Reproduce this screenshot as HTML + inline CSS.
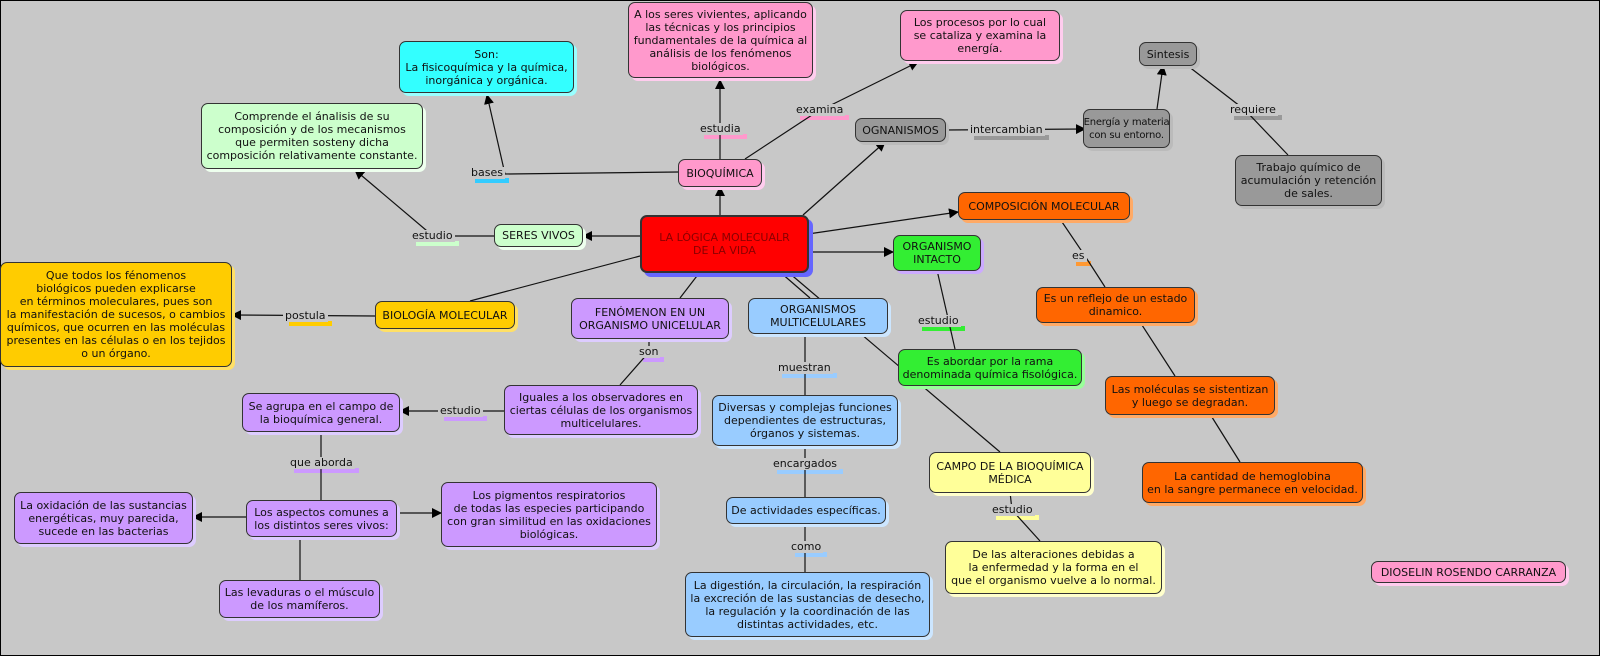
<!DOCTYPE html>
<html><head><meta charset="utf-8"><style>
body{margin:0;width:1600px;height:656px;background:#c8c8c8;position:relative;overflow:hidden;font-family:"DejaVu Sans","Liberation Sans",sans-serif;font-size:11px;color:#111;}
.frame{position:absolute;left:0;top:0;width:1598px;height:654px;border:1px solid #000;}
.n{position:absolute;box-sizing:border-box;border:1px solid #333;border-radius:7px;display:flex;align-items:center;justify-content:center;text-align:center;line-height:13px;white-space:nowrap;}
.l{position:absolute;line-height:12px;padding:0 2px;background:#c8c8c8;white-space:nowrap;}
.l span{position:absolute;left:6px;right:-4px;bottom:-4px;height:5px;z-index:-1;}
svg{position:absolute;left:0;top:0;}
</style></head><body>
<div class="frame"></div>
<svg width="1600" height="656">
<defs><marker id="a" markerWidth="10" markerHeight="10" refX="9" refY="5" orient="auto" markerUnits="userSpaceOnUse"><path d="M0,0 L10,5 L0,10z" fill="#000"/></marker></defs>
<g stroke="#111" stroke-width="1.2" fill="none">
<line x1="720" y1="159" x2="720" y2="80" marker-end="url(#a)"/>
<polyline points="745,159 815,113 918,62" marker-end="url(#a)"/>
<polyline points="678,172 505,174 487,95" marker-end="url(#a)"/>
<line x1="720" y1="215" x2="720" y2="187" marker-end="url(#a)"/>
<line x1="803" y1="215" x2="885" y2="142" marker-end="url(#a)"/>
<line x1="945" y1="130" x2="1085" y2="129" marker-end="url(#a)"/>
<line x1="1157" y1="109" x2="1163" y2="66" marker-end="url(#a)"/>
<polyline points="1188,66 1245,110 1288,155"/>
<line x1="808" y1="234" x2="958" y2="212" marker-end="url(#a)"/>
<line x1="808" y1="252" x2="893" y2="252" marker-end="url(#a)"/>
<line x1="640" y1="236" x2="583" y2="236" marker-end="url(#a)"/>
<polyline points="494,236 433,236 355,170" marker-end="url(#a)"/>
<line x1="640" y1="256" x2="470" y2="301"/>
<line x1="375" y1="316" x2="232" y2="315" marker-end="url(#a)"/>
<line x1="700" y1="272" x2="680" y2="298"/>
<line x1="780" y1="272" x2="810" y2="298"/>
<line x1="788" y1="272" x2="1000" y2="452"/>
<polyline points="1060,219 1085,256 1105,287"/>
<line x1="1140" y1="322" x2="1175" y2="376"/>
<line x1="1210" y1="414" x2="1240" y2="462"/>
<line x1="937" y1="270" x2="955" y2="349"/>
<polyline points="649,338 649,352 620,385"/>
<line x1="504" y1="411" x2="400" y2="411" marker-end="url(#a)"/>
<line x1="321" y1="431" x2="321" y2="500"/>
<line x1="246" y1="517" x2="193" y2="517" marker-end="url(#a)"/>
<line x1="396" y1="513" x2="441" y2="513" marker-end="url(#a)"/>
<line x1="300" y1="536" x2="300" y2="580"/>
<line x1="805" y1="333" x2="805" y2="395"/>
<line x1="805" y1="445" x2="805" y2="497"/>
<line x1="805" y1="523" x2="805" y2="572"/>
<polyline points="1010,492 1012,510 1040,541"/>
</g></svg>

<div class="n" style="left:399px;top:41px;width:175px;height:52px;background:#33ffff;box-shadow:3px 3px 0 #99ffff">Son:<br>La fisicoquímica y la química,<br>inorgánica y orgánica.</div>
<div class="n" style="left:628px;top:2px;width:185px;height:76px;background:#ff99cc;box-shadow:3px 3px 0 #ffccee">A los seres vivientes, aplicando<br>las técnicas y los principios<br>fundamentales de la química al<br>análisis de los fenómenos<br>biológicos.</div>
<div class="n" style="left:900px;top:10px;width:160px;height:51px;background:#ff99cc;box-shadow:3px 3px 0 #ffccee">Los procesos por lo cual<br>se cataliza y examina la<br>energía.</div>
<div class="n" style="left:1139px;top:42px;width:58px;height:24px;background:#999;box-shadow:3px 3px 0 #bbb">Sintesis</div>
<div class="n" style="left:201px;top:103px;width:222px;height:66px;background:#ccffcc;box-shadow:3px 3px 0 #eeffee">Comprende el ánalisis de su<br>composición y de los mecanismos<br>que permiten sosteny dicha<br>composición relativamente constante.</div>
<div class="n" style="left:678px;top:159px;width:84px;height:28px;background:#ff99cc;box-shadow:3px 3px 0 #ffccee">BIOQUÍMICA</div>
<div class="n" style="left:855px;top:118px;width:91px;height:24px;background:#999;box-shadow:3px 3px 0 #bbb">OGNANISMOS</div>
<div class="n" style="left:1083px;top:109px;width:87px;height:39px;background:#999;box-shadow:3px 3px 0 #bbb;font-size:10px;letter-spacing:-0.2px">Energía y materia<br>con su entorno.</div>
<div class="n" style="left:1235px;top:155px;width:147px;height:51px;background:#999;box-shadow:3px 3px 0 #bbb">Trabajo químico de<br>acumulación y retención<br>de sales.</div>
<div class="n" style="left:640px;top:215px;width:169px;height:58px;background:#ff0000;color:#800;border-width:2px;box-shadow:4px 4px 0 #6666ff">LA LÓGICA MOLECUALR<br>DE LA VIDA</div>
<div class="n" style="left:494px;top:224px;width:89px;height:23px;background:#ccffcc;box-shadow:3px 3px 0 #eeffee">SERES VIVOS</div>
<div class="n" style="left:958px;top:192px;width:172px;height:28px;background:#ff6600;box-shadow:3px 3px 0 #ffaa66">COMPOSICIÓN MOLECULAR</div>
<div class="n" style="left:893px;top:235px;width:88px;height:36px;background:#33ee33;box-shadow:3px 3px 0 #ccaaff">ORGANISMO<br>INTACTO</div>
<div class="n" style="left:0px;top:262px;width:232px;height:105px;background:#ffcc00;box-shadow:3px 3px 0 #ffe066">Que todos los fénomenos<br>biológicos pueden explicarse<br>en términos moleculares, pues son<br>la manifestación de sucesos, o cambios<br>químicos, que ocurren en las moléculas<br>presentes en las células o en los tejidos<br>o un órgano.</div>
<div class="n" style="left:375px;top:301px;width:140px;height:28px;background:#ffcc00;box-shadow:3px 3px 0 #ffe066">BIOLOGÍA MOLECULAR</div>
<div class="n" style="left:571px;top:298px;width:158px;height:41px;background:#cc99ff;box-shadow:3px 3px 0 #ddccff">FENÓMENON EN UN<br>ORGANISMO UNICELULAR</div>
<div class="n" style="left:748px;top:298px;width:140px;height:36px;background:#99ccff;box-shadow:3px 3px 0 #cce6ff">ORGANISMOS<br>MULTICELULARES</div>
<div class="n" style="left:1036px;top:287px;width:159px;height:36px;background:#ff6600;box-shadow:3px 3px 0 #ffaa66">Es un reflejo de un estado<br>dinamico.</div>
<div class="n" style="left:898px;top:349px;width:184px;height:37px;background:#33ee33;box-shadow:3px 3px 0 #99ff99">Es abordar por la rama<br>denominada química fisológica.</div>
<div class="n" style="left:1105px;top:376px;width:170px;height:39px;background:#ff6600;box-shadow:3px 3px 0 #ffaa66">Las moléculas se sistentizan<br>y luego se degradan.</div>
<div class="n" style="left:242px;top:393px;width:158px;height:39px;background:#cc99ff;box-shadow:3px 3px 0 #ddccff">Se agrupa en el campo de<br>la bioquímica general.</div>
<div class="n" style="left:504px;top:385px;width:194px;height:50px;background:#cc99ff;box-shadow:3px 3px 0 #ddccff">Iguales a los observadores en<br>ciertas células de los organismos<br>multicelulares.</div>
<div class="n" style="left:712px;top:395px;width:186px;height:51px;background:#99ccff;box-shadow:3px 3px 0 #cce6ff">Diversas y complejas funciones<br>dependientes de estructuras,<br>órganos y sistemas.</div>
<div class="n" style="left:1142px;top:462px;width:221px;height:41px;background:#ff6600;box-shadow:3px 3px 0 #ffaa66">La cantidad de hemoglobina<br>en la sangre permanece en velocidad.</div>
<div class="n" style="left:929px;top:452px;width:162px;height:41px;background:#ffff99;box-shadow:3px 3px 0 #ffffcc">CAMPO DE LA BIOQUÍMICA<br>MÉDICA</div>
<div class="n" style="left:14px;top:492px;width:179px;height:52px;background:#cc99ff;box-shadow:3px 3px 0 #ddccff">La oxidación de las sustancias<br>energéticas, muy parecida,<br>sucede en las bacterias</div>
<div class="n" style="left:246px;top:500px;width:151px;height:37px;background:#cc99ff;box-shadow:3px 3px 0 #ddccff">Los aspectos comunes a<br>los distintos seres vivos:</div>
<div class="n" style="left:441px;top:482px;width:216px;height:65px;background:#cc99ff;box-shadow:3px 3px 0 #ddccff">Los pigmentos respiratorios<br>de todas las especies participando<br>con gran similitud en las oxidaciones<br>biológicas.</div>
<div class="n" style="left:726px;top:497px;width:160px;height:27px;background:#99ccff;box-shadow:3px 3px 0 #cce6ff">De actividades específicas.</div>
<div class="n" style="left:945px;top:541px;width:217px;height:53px;background:#ffff99;box-shadow:3px 3px 0 #ffffcc">De las alteraciones debidas a<br>la enfermedad y la forma en el<br>que el organismo vuelve a lo normal.</div>
<div class="n" style="left:219px;top:580px;width:161px;height:38px;background:#cc99ff;box-shadow:3px 3px 0 #ddccff">Las levaduras o el músculo<br>de los mamíferos.</div>
<div class="n" style="left:685px;top:572px;width:245px;height:65px;background:#99ccff;box-shadow:3px 3px 0 #cce6ff">La digestión, la circulación, la respiración<br>la excreción de las sustancias de desecho,<br>la regulación y la coordinación de las<br>distintas actividades, etc.</div>
<div class="n" style="left:1371px;top:561px;width:195px;height:22px;background:#ff99cc;box-shadow:3px 3px 0 #ffccee">DIOSELIN ROSENDO CARRANZA</div>

<div class="l" style="left:698px;top:123px">estudia<span style="background:#ff99cc"></span></div>
<div class="l" style="left:794px;top:104px">examina<span style="background:#ff99cc"></span></div>
<div class="l" style="left:968px;top:124px">intercambian<span style="background:#999"></span></div>
<div class="l" style="left:1228px;top:104px">requiere<span style="background:#999"></span></div>
<div class="l" style="left:469px;top:167px">bases<span style="background:#33ccff"></span></div>
<div class="l" style="left:410px;top:230px">estudio<span style="background:#ccffcc"></span></div>
<div class="l" style="left:283px;top:310px">postula<span style="background:#ffcc00"></span></div>
<div class="l" style="left:1070px;top:250px">es<span style="background:#ff9933"></span></div>
<div class="l" style="left:916px;top:315px">estudio<span style="background:#33ee33"></span></div>
<div class="l" style="left:637px;top:346px">son<span style="background:#cc99ff"></span></div>
<div class="l" style="left:776px;top:362px">muestran<span style="background:#99ccff"></span></div>
<div class="l" style="left:438px;top:405px">estudio<span style="background:#cc99ff"></span></div>
<div class="l" style="left:288px;top:457px">que aborda<span style="background:#cc99ff"></span></div>
<div class="l" style="left:771px;top:458px">encargados<span style="background:#99ccff"></span></div>
<div class="l" style="left:990px;top:504px">estudio<span style="background:#ffff99"></span></div>
<div class="l" style="left:789px;top:541px">como<span style="background:#99ccff"></span></div>
</body></html>
